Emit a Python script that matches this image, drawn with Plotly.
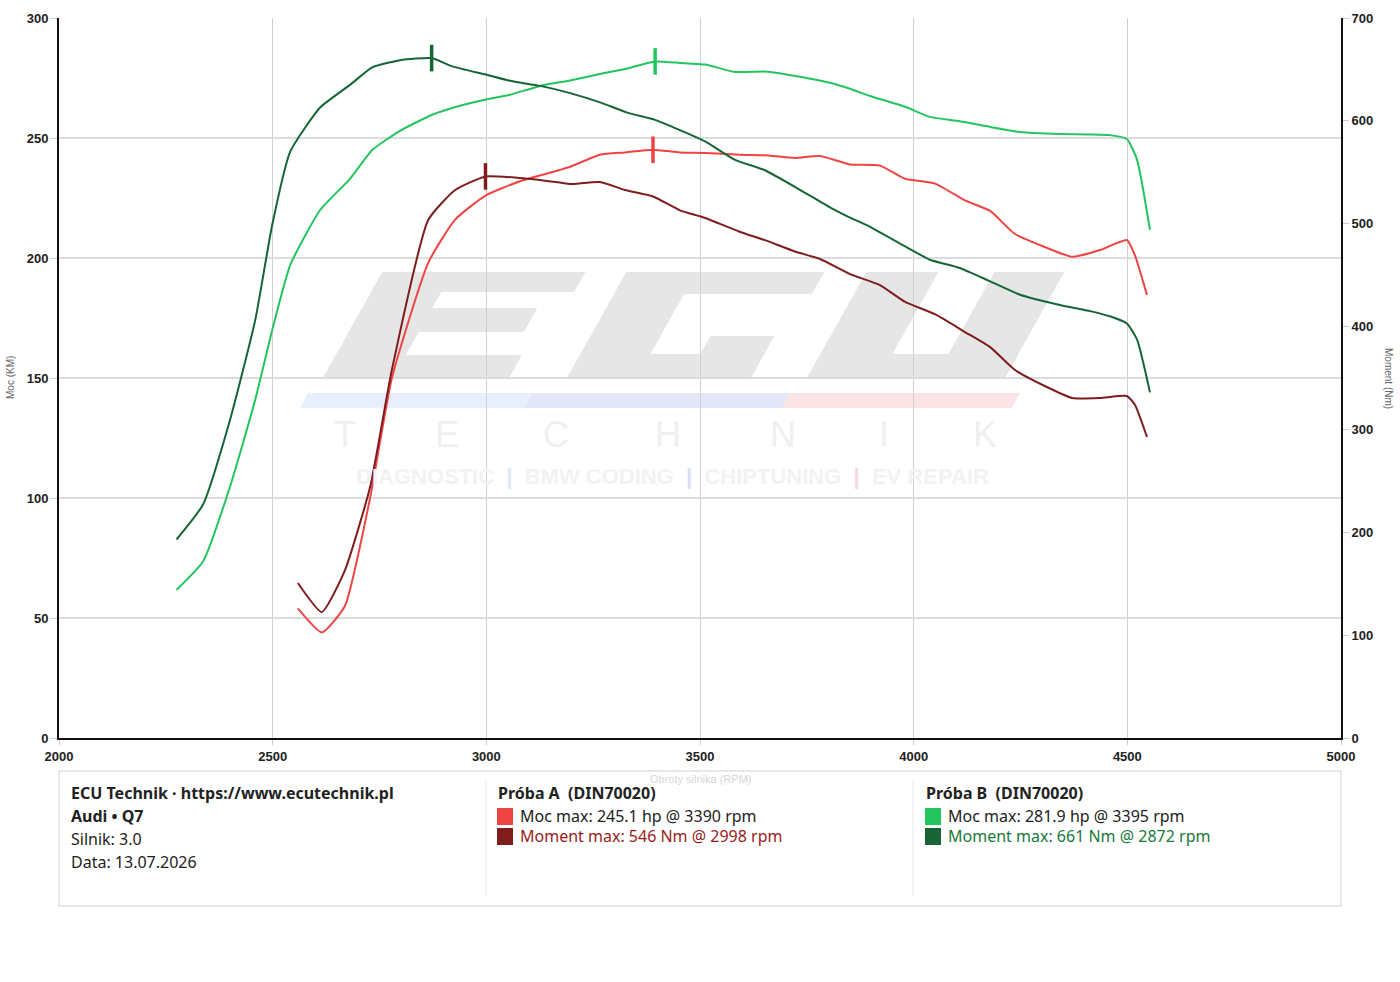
import plotly.graph_objects as go

# ---------------- data ----------------
rpm_b = [2275, 2337, 2400, 2459, 2499, 2541, 2611, 2681, 2733, 2798, 2872, 2920, 2999, 3055, 3126,
         3196, 3266, 3330, 3395, 3453, 3512, 3582, 3652, 3734, 3804, 3851, 3898, 3980, 4038, 4108,
         4179, 4249, 4342, 4413, 4459, 4499, 4523, 4553]
power_b = [61.7, 73.5, 104.6, 140.8, 170, 197, 220, 233, 245, 253, 259.6, 262.5, 266, 268, 271.7,
           274, 276.7, 279, 281.9, 281.3, 280.6, 277.5, 277.7, 275.5, 273, 270.5, 267.5, 263, 258.8, 257,
           254.6, 252.5, 251.7, 251.5, 251.2, 249.6, 240.8, 211.7]
torque_b = [193, 227, 309, 406, 499, 570, 613, 635, 652, 659, 661, 653, 645, 639, 634,
            627, 618, 608, 601, 591, 580, 562, 552, 533, 516, 506, 497, 478, 465, 457,
            444, 431, 421, 415, 410, 403, 387, 336]

rpm_a = [2559, 2615, 2669, 2728, 2779, 2864, 2927, 2998, 3079, 3172, 3196, 3266, 3324, 3390, 3453,
         3512, 3594, 3652, 3722, 3781, 3851, 3921, 3980, 4050, 4120, 4179, 4237, 4308, 4371, 4436,
         4499, 4518, 4546]
power_a = [54, 44, 55, 100, 150, 198, 216, 226, 232, 236.7, 238, 243, 244, 245.1, 244,
           243.8, 243, 242.8, 241.7, 242.5, 239, 238.5, 233, 231, 224, 219.6, 210, 204.5, 200.5, 203.3,
           207.5, 201, 184.6]
torque_a = [150.7, 122.5, 163, 244, 358, 503.6, 532.8, 546, 544.4, 540, 538.6, 540.6, 532.8, 526.5, 513,
            505.6, 492, 484, 473, 465.7, 451, 440.4, 424, 412, 394.7, 380, 357.8, 342, 330.6, 330.6,
            332.5, 323.8, 292.6]

x_ticks = [2000, 2500, 3000, 3500, 4000, 4500, 5000]
y_ticks = [0, 50, 100, 150, 200, 250, 300]
y2_ticks = [0, 100, 200, 300, 400, 500, 600, 700]

info_lines = ["ECU Technik · https://www.ecutechnik.pl", "Audi • Q7", "Silnik: 3.0", "Data: 13.07.2026"]
run_a_title = "Próba A\u00a0\u00a0(DIN70020)"
run_b_title = "Próba B\u00a0\u00a0(DIN70020)"
wm_technik = ["T", "E", "C", "H", "N", "I", "K"]
wm_services = ["DIAGNOSTIC", "BMW CODING", "CHIPTUNING", "EV REPAIR"]

# ---------------- colours ----------------
C_PA = "#ef4444"
C_TA = "#7f1d1d"
C_PB = "#22c55e"
C_TB = "#166534"
C_TA_TXT = "#991b1b"
C_TB_TXT = "#17793a"

W, H = 1400, 982
L, R, T, B = 59, 59, 18, 244
PW, PH = W - L - R, H - T - B


def px(x):
    return (x - L) / PW


def py(y):
    return (T + PH - y) / PH


fig = go.Figure()


def peak(rpms, vals):
    i = max(range(len(vals)), key=lambda k: vals[k])
    return rpms[i], vals[i]


series = [
    (rpm_b, torque_b, C_TB, "y2", "Moment B"),
    (rpm_b, power_b, C_PB, "y", "Moc B"),
    (rpm_a, torque_a, C_TA, "y2", "Moment A"),
    (rpm_a, power_a, C_PA, "y", "Moc A"),
]
for xs, ys, col, ax, name in series:
    fig.add_trace(go.Scatter(x=xs, y=ys, mode="lines", yaxis=ax, name=name,
                             line=dict(color=col, width=2, shape="spline", smoothing=0.5),
                             showlegend=False, hoverinfo="skip"))
for xs, ys, col, ax, name in series:
    pr, pv = peak(xs, ys)
    fig.add_trace(go.Scatter(x=[pr], y=[pv], mode="markers", yaxis=ax, showlegend=False,
                             marker=dict(symbol="line-ns", size=19,
                                         line=dict(color=col, width=3.5)),
                             hoverinfo="skip"))

shapes = []
annotations = []

# ---------------- watermark ----------------
WM = "#e6e6e6"
SL = 0.56
BASE = 378


def para(x0, u0, u1, v0, v1, color, layer="below"):
    pts = [(x0 + u0 + SL * v0, BASE - v0), (x0 + u1 + SL * v0, BASE - v0),
           (x0 + u1 + SL * v1, BASE - v1), (x0 + u0 + SL * v1, BASE - v1)]
    path = "M " + " L ".join(f"{px(a):.5f},{py(b):.5f}" for a, b in pts) + " Z"
    return dict(type="path", xref="paper", yref="paper", path=path, fillcolor=color,
                line=dict(width=0), layer=layer)


# E
for r in [(0, 70, 0, 106), (0, 203, 86, 106), (0, 175, 46, 70), (0, 186, 0, 23)]:
    shapes.append(para(323, *r, WM))
# C
for r in [(0, 70, 0, 106), (0, 198, 84, 106), (0, 182, 0, 24), (120, 184, 0, 42)]:
    shapes.append(para(567, *r, WM))
# U
for r in [(0, 72, 0, 106), (128, 198, 0, 106), (0, 198, 0, 24)]:
    shapes.append(para(807, *r, WM))


def stripe(xa, xb, color):
    pts = [(xa, 408), (xb, 408), (xb + 8, 393), (xa + 8, 393)]
    path = "M " + " L ".join(f"{px(a):.5f},{py(b):.5f}" for a, b in pts) + " Z"
    return dict(type="path", xref="paper", yref="paper", path=path, fillcolor=color,
                line=dict(width=0), layer="below")


shapes.append(stripe(300, 524, "#e6effb"))
shapes.append(stripe(524, 782, "#e3e6f6"))
shapes.append(stripe(782, 1012, "#fce3e5"))

tech_x = [345, 447, 556, 668, 783, 884, 985]
for ch, xx in zip(wm_technik, tech_x):
    annotations.append(dict(text=ch, x=px(xx), y=py(435), xref="paper", yref="paper",
                            showarrow=False, xanchor="center", yanchor="middle",
                            font=dict(family="Liberation Sans", size=36, color="#f0f0f0", weight=300)))

sep_cols = ["#dde8f7", "#dbdff2", "#f9d6da"]
sp = "\u00a0\u00a0"
svc = wm_services[0]
for col, word in zip(sep_cols, wm_services[1:]):
    svc += f"{sp}<span style='color:{col}'>|</span>{sp}{word}"
annotations.append(dict(
    text=svc, x=px(672), y=py(476), xref="paper", yref="paper", showarrow=False,
    xanchor="center", yanchor="middle",
    font=dict(family="Liberation Sans", size=22, color="#f2f2f2", weight="bold")))

# ---------------- axis titles ----------------
annotations.append(dict(text="Moc (KM)", x=px(10), y=py(378), xref="paper", yref="paper",
                        showarrow=False, textangle=-90, xanchor="center", yanchor="middle",
                        font=dict(family="Liberation Sans", size=10, color="#666666")))
annotations.append(dict(text="Moment (Nm)", x=px(1389), y=py(378), xref="paper", yref="paper",
                        showarrow=False, textangle=90, xanchor="center", yanchor="middle",
                        font=dict(family="Liberation Sans", size=10, color="#666666")))

# ---------------- info box ----------------
shapes.append(dict(type="rect", xref="paper", yref="paper", x0=px(59), x1=px(1341),
                   y0=py(906), y1=py(771), fillcolor="rgba(255,255,255,0.85)",
                   line=dict(color="#e0e0e0", width=1.5), layer="above"))
for dx in (486, 913):
    shapes.append(dict(type="line", xref="paper", yref="paper", x0=px(dx), x1=px(dx),
                       y0=py(897), y1=py(781), line=dict(color="#eeeeee", width=1.5), layer="above"))

annotations.append(dict(text="Obroty silnika (RPM)", x=px(700), y=py(779), xref="paper", yref="paper",
                        showarrow=False, xanchor="center", yanchor="middle",
                        font=dict(family="Liberation Sans", size=11, color="#d6d6d6")))

FONT = "Noto Sans"
FS = 16
ys_info = [793, 816, 839, 862]
for i, (t, yy) in enumerate(zip(info_lines, ys_info)):
    annotations.append(dict(text=f"<b>{t}</b>" if i < 2 else t, x=px(69), y=py(yy),
                            xref="paper", yref="paper", showarrow=False,
                            xanchor="left", yanchor="middle",
                            font=dict(family=FONT, size=FS, color="#222222")))


def run_block(x0, title, p_rpm, p_val, t_rpm, t_val, c_p, c_t, c_t_txt):
    annotations.append(dict(text=f"<b>{title}</b>", x=px(x0 - 1), y=py(793), xref="paper", yref="paper",
                            showarrow=False, xanchor="left", yanchor="middle",
                            font=dict(family=FONT, size=FS, color="#222222")))
    shapes.append(dict(type="rect", xref="paper", yref="paper", x0=px(x0), x1=px(x0 + 16),
                       y0=py(825), y1=py(808), fillcolor=c_p, line=dict(width=0), layer="above"))
    shapes.append(dict(type="rect", xref="paper", yref="paper", x0=px(x0), x1=px(x0 + 16),
                       y0=py(845), y1=py(828), fillcolor=c_t, line=dict(width=0), layer="above"))
    annotations.append(dict(text=f"Moc max: {p_val:.1f} hp @ {p_rpm} rpm", x=px(x0 + 21), y=py(816),
                            xref="paper", yref="paper", showarrow=False, xanchor="left", yanchor="middle",
                            font=dict(family=FONT, size=FS, color="#222222")))
    annotations.append(dict(text=f"Moment max: {t_val:.0f} Nm @ {t_rpm} rpm", x=px(x0 + 21), y=py(836),
                            xref="paper", yref="paper", showarrow=False, xanchor="left", yanchor="middle",
                            font=dict(family=FONT, size=FS, color=c_t_txt)))


pa = peak(rpm_a, power_a)
ta = peak(rpm_a, torque_a)
pb = peak(rpm_b, power_b)
tb = peak(rpm_b, torque_b)
run_block(497, run_a_title, pa[0], pa[1], ta[0], ta[1], C_PA, C_TA, C_TA_TXT)
run_block(925, run_b_title, pb[0], pb[1], tb[0], tb[1], C_PB, C_TB, C_TB_TXT)

tickfont = dict(family="Liberation Sans", size=13, color="#222222", weight="bold")

fig.update_layout(
    width=W, height=H,
    margin=dict(l=L, r=R, t=T, b=B, pad=0),
    paper_bgcolor="white", plot_bgcolor="rgba(0,0,0,0)",
    showlegend=False,
    shapes=shapes, annotations=annotations,
    xaxis=dict(range=[2000, 5000], tickvals=x_ticks, ticktext=[str(v) for v in x_ticks],
               showgrid=True, gridcolor="#d0d0d0", gridwidth=1.2,
               showline=True, linecolor="#111111", linewidth=2, zeroline=False,
               ticks="outside", ticklen=5, tickcolor="#cccccc", tickfont=tickfont),
    yaxis=dict(range=[0, 300], tickvals=y_ticks, showgrid=True, gridcolor="#dcdcdc", gridwidth=1.5,
               showline=True, linecolor="#111111", linewidth=2, zeroline=False,
               ticks="outside", ticklen=6, tickcolor="#cccccc", tickfont=tickfont),
    yaxis2=dict(range=[0, 700], tickvals=y2_ticks, overlaying="y", side="right", showgrid=False,
                showline=True, linecolor="#111111", linewidth=2, zeroline=False,
                ticks="outside", ticklen=6, tickcolor="#cccccc", tickfont=tickfont),
)

fig.write_html("out.html")
